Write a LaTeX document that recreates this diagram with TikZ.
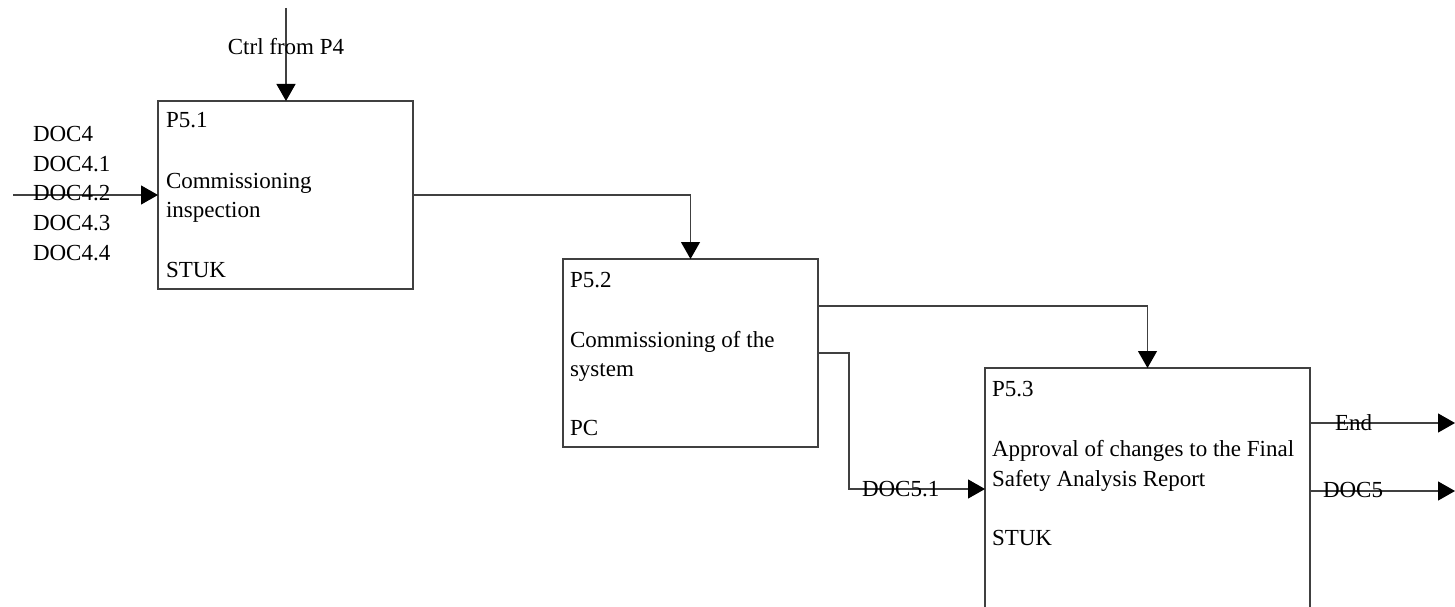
\documentclass[tikz,border=0pt]{standalone}
\usepackage{fontspec}
\setmainfont{Liberation Serif}
\usetikzlibrary{arrows.meta}
\begin{document}
\begin{tikzpicture}[x=1pt,y=-1pt,
  box/.style={draw=black!75,line width=1.2pt,inner sep=0pt,outer sep=0pt,minimum width=255pt,minimum height=188pt},
  lbl/.style={inner sep=0pt,outer sep=0pt,anchor=base west,font=\fontsize{23}{30}\selectfont,text=black},
  conn/.style={draw=black!75,line width=1.2pt},
  arr/.style={conn,-{Triangle[length=17pt,width=19pt,color=black]}}]
\useasboundingbox (0,0) rectangle (1455,607);
% boxes
\node[box] (p51) at (285.5,195) {};
\node[box] (p52) at (690.5,353) {};
\node[box,minimum width=325pt,minimum height=262pt] (p53) at (1147.5,499) {};
% box texts
\node[lbl] (t11) at (166,128) {P5.1};
\node[lbl] (t12) at (166,188) {Commissioning};
\node[lbl] (t13) at (166,217) {inspection};
\node[lbl] (t14) at (166,277) {STUK};
\node[lbl] (t21) at (570,287) {P5.2};
\node[lbl] (t22) at (570,347) {Commissioning of the};
\node[lbl] (t23) at (570,376) {system};
\node[lbl] (t24) at (570,435) {PC};
\node[lbl] (t31) at (992,396) {P5.3};
\node[lbl] (t32) at (992,456) {Approval of changes to the Final};
\node[lbl] (t33) at (992,486) {Safety Analysis Report};
\node[lbl] (t34) at (992,545) {STUK};
% coordinates
\coordinate (ctrl) at (286,8);
\coordinate (in) at (13,195);
\coordinate (o2a) at (818,306);
\coordinate (o2b) at (818,353);
\coordinate (bend) at (849,489);
\coordinate (endo) at (1455,423);
\coordinate (doco) at (1455,491);
% connectors
\draw[arr] (ctrl) -- (ctrl |- p51.north);
\draw[arr] (in) -- (in -| p51.west);
\draw[arr] (p51.east) -| (p52.north);
\draw[arr] (o2a) -| (p53.north);
\draw[arr] (o2b) -| (bend) -- (bend -| p53.west);
\draw[arr] (endo -| p53.east) -- (endo);
\draw[arr] (doco -| p53.east) -- (doco);
% labels
\node[lbl,anchor=base] (lc) at (286,55) {Ctrl from P4};
\node[lbl] (d0) at (33,142) {DOC4};
\node[lbl] (d1) at (33,171) {DOC4.1};
\node[lbl] (d2) at (33,200) {DOC4.2};
\node[lbl] (d3) at (33,230) {DOC4.3};
\node[lbl] (d4) at (33,260) {DOC4.4};
\node[lbl] (d51) at (862,496) {DOC5.1};
\node[lbl] (le) at (1335,430) {End};
\node[lbl] (ld5) at (1323,497) {DOC5};
\end{tikzpicture}
\end{document}
